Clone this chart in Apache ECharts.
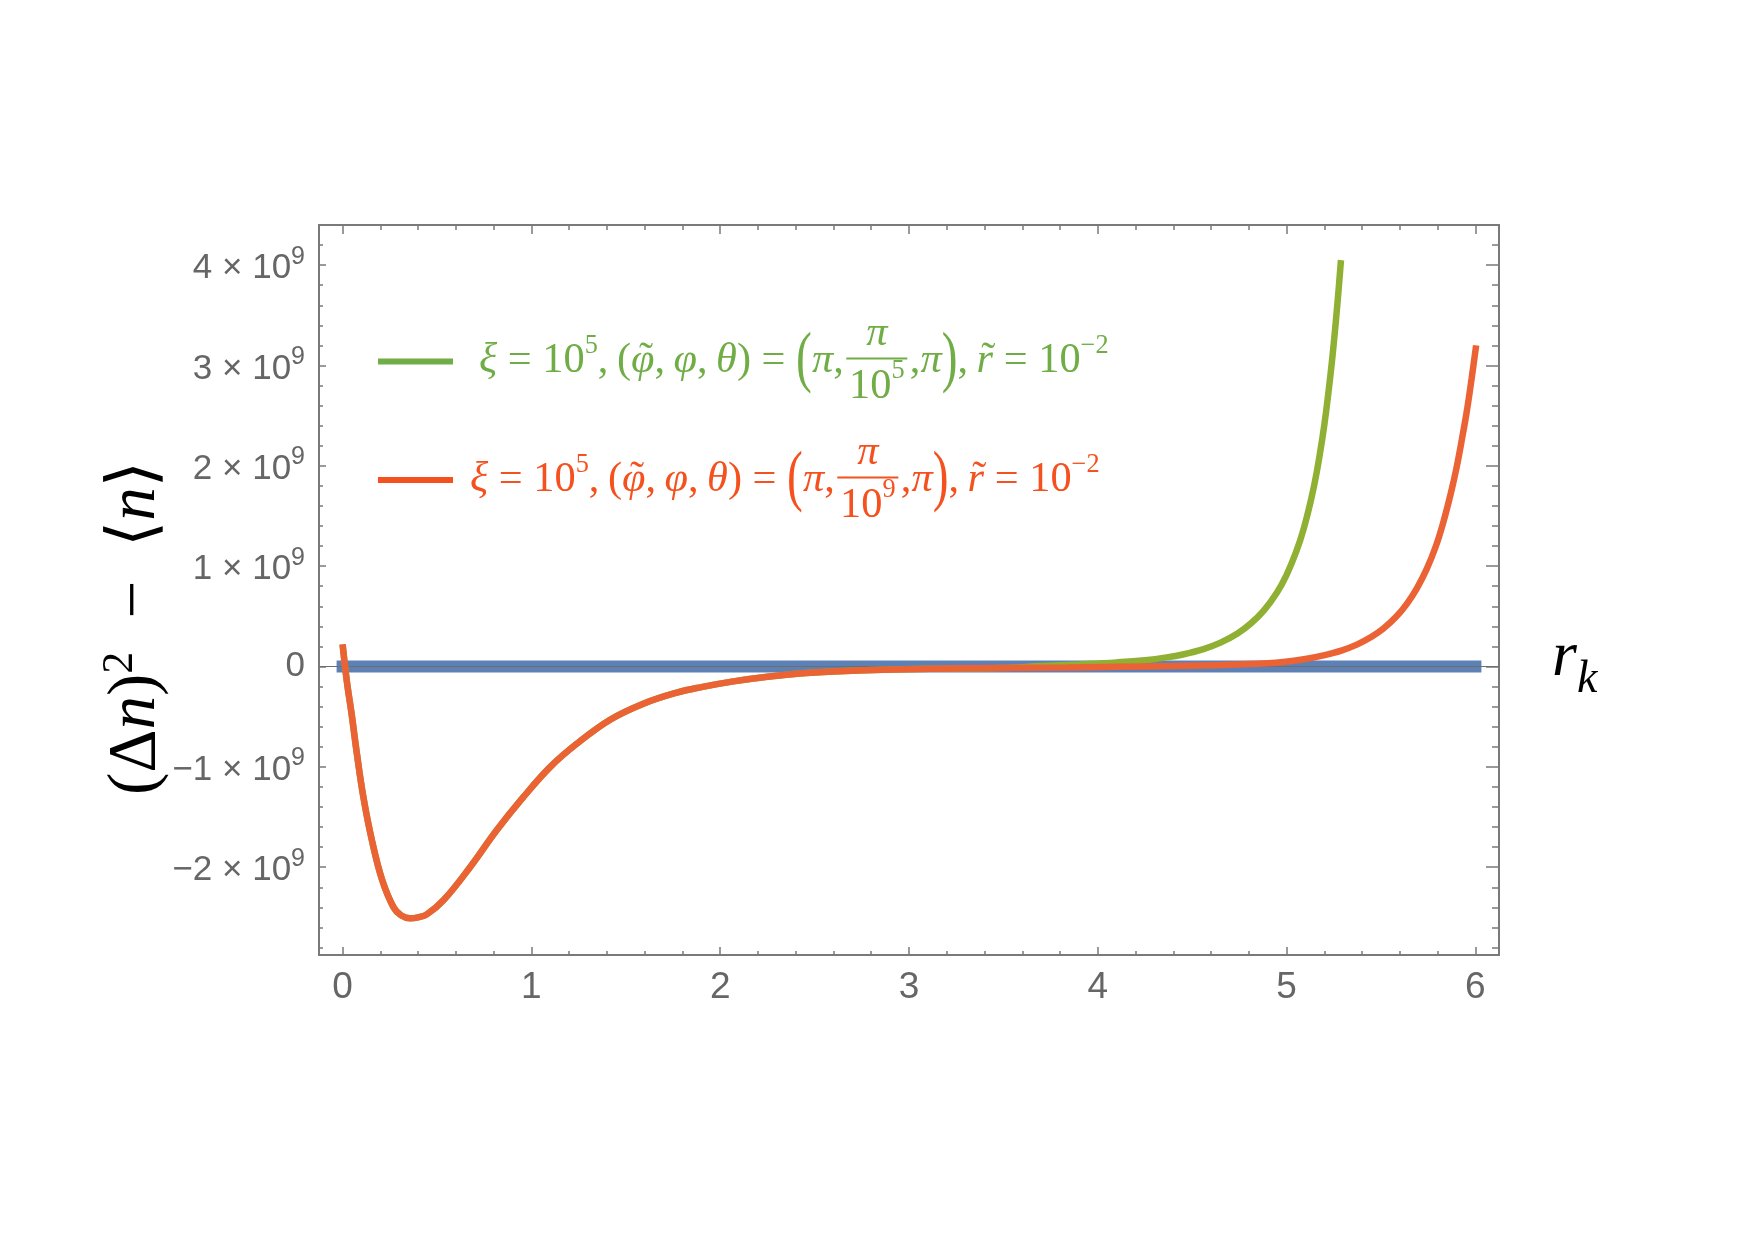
<!DOCTYPE html>
<html>
<head>
<meta charset="utf-8">
<script src="https://cdn.jsdelivr.net/npm/echarts@6/dist/echarts.min.js"></script>
<style>
html, body { margin: 0; padding: 0; background: #fff; }
#chart { width: 1755px; height: 1240px; }
</style>
</head>
<body>
<div id="chart"></div>
<script>
// r_k samples, values in units of 10^9
var redX = [0, 0.022, 0.049, 0.075, 0.11, 0.155, 0.21, 0.27, 0.31, 0.357, 0.40, 0.446, 0.534, 0.675, 0.817,
    0.958, 1.10, 1.24, 1.417, 1.593, 1.77, 1.9, 2.07, 2.25, 2.42, 2.6, 2.86, 3.13, 3.48, 3.84, 4.1, 4.4, 4.6,
    4.807, 4.983, 5.1, 5.195, 5.29, 5.372, 5.45, 5.513, 5.58, 5.637, 5.69, 5.743, 5.79, 5.83, 5.87, 5.90,
    5.93, 5.955, 5.98, 6.004];
var redY = [0.22, -0.14, -0.49, -0.86, -1.30, -1.73, -2.13, -2.40, -2.48, -2.51, -2.50, -2.47, -2.33, -2.00, -1.63,
    -1.30, -1.00, -0.77, -0.53, -0.37, -0.26, -0.205, -0.148, -0.102, -0.07, -0.05, -0.032, -0.022, -0.015, -0.01, -0.003, 0.005, 0.013,
    0.024, 0.046, 0.075, 0.111, 0.159, 0.218, 0.296, 0.378, 0.495, 0.625, 0.779, 0.976, 1.196, 1.437, 1.728, 1.98,
    2.28, 2.55, 2.87, 3.20];
var greenX = [0, 0.022, 0.049, 0.075, 0.11, 0.155, 0.21, 0.27, 0.31, 0.357, 0.40, 0.446, 0.534, 0.675, 0.817,
    0.958, 1.10, 1.24, 1.417, 1.593, 1.77, 1.9, 2.07, 2.25, 2.42, 2.6, 2.86, 3.13, 3.48, 3.7, 3.9, 4.1, 4.25,
    4.365, 4.45, 4.56, 4.65, 4.74, 4.81, 4.88, 4.95, 5.0, 5.05, 5.09, 5.13, 5.16, 5.19, 5.21, 5.235, 5.25, 5.27, 5.288];
var greenY = [0.22, -0.14, -0.49, -0.86, -1.30, -1.73, -2.13, -2.40, -2.48, -2.51, -2.50, -2.47, -2.33, -2.00, -1.63,
    -1.30, -1.00, -0.77, -0.53, -0.37, -0.26, -0.205, -0.148, -0.102, -0.07, -0.05, -0.032, -0.022, -0.015, 0.004, 0.021, 0.041, 0.063,
    0.091, 0.12, 0.174, 0.238, 0.329, 0.428, 0.56, 0.741, 0.914, 1.139, 1.369, 1.666, 1.941, 2.282, 2.553, 2.951, 3.224, 3.635, 4.05];
var blueX = [0, 6];
var blueY = [0, 0];

var xTicks = [0, 1, 2, 3, 4, 5, 6];
var yTicks = [-2, -1, 0, 1, 2, 3, 4];
var seriesNames = ['phi = pi/10^5', 'phi = pi/10^9'];

var FRAME = '#7a7a7a';
var SANS = '"Liberation Sans", Arial, sans-serif';
var SERIF = '"Liberation Serif", "DejaVu Serif", serif';

function pairs(xs, ys) { return xs.map(function (x, i) { return [x, ys[i]]; }); }
function minors(majors, lo, hi) {
    var out = [];
    for (var k = Math.round(lo * 5); k <= Math.round(hi * 5); k++) {
        var v = Math.round(k * 2) / 10;
        if (majors.indexOf(v) < 0) out.push(v);
    }
    return out;
}
var xMinor = minors(xTicks, 0, 6);
var yMinor = minors(yTicks, -2.8, 4.2);

function frameAxis(pos, min, max, vals, len, label) {
    return {
        type: 'value', position: pos, min: min, max: max,
        axisLine: { show: true, onZero: false, lineStyle: { color: FRAME, width: 2 } },
        axisTick: { show: true, inside: true, length: len, customValues: vals, lineStyle: { color: FRAME, width: 1.5 } },
        axisLabel: label ? label : { show: false, customValues: vals },
        splitLine: { show: false }
    };
}

var xLabel = { show: true, customValues: xTicks, margin: 14, color: '#666', fontSize: 37, fontFamily: SANS };
var yLabel = {
    show: true, customValues: yTicks, margin: 14, color: '#666', fontSize: 35, fontFamily: SANS,
    formatter: function (v) {
        if (v === 0) return '0';
        return '{b|' + (v < 0 ? '\u2212' : '') + Math.abs(v) + ' \u00d7 10}{s|9}';
    },
    rich: {
        b: { fontSize: 35, color: '#666', fontFamily: SANS, lineHeight: 42, verticalAlign: 'bottom' },
        s: { fontSize: 25, color: '#666', fontFamily: SANS, lineHeight: 25, verticalAlign: 'top' }
    }
};

// --- math text for legend, laid out piece by piece
var mctx = document.createElement('canvas').getContext('2d');
function fnt(size, it) { return (it ? 'italic ' : '') + size.toFixed(1) + 'px ' + SERIF; }
function mw(t, size, it) { mctx.font = fnt(size, it); return mctx.measureText(t).width; }

function mathRow(x0, yc, color, S, parts, measureOnly) {
    var els = [], x = x0;
    function txt(t, size, it, cx, cy, align, sx) {
        els.push({ type: 'text', x: cx, y: cy, scaleX: sx || 1, silent: true,
            style: { text: t, fill: color, font: fnt(size, it), align: align || 'left', verticalAlign: 'middle' } });
    }
    parts.forEach(function (p) {
        if (p.frac) {
            var ss = S * 0.62;
            var wn = mw(p.frac[0], S, true), wd = mw(p.frac[1], S, false) + mw(p.frac[2], ss, false);
            var fw = Math.max(wn, wd) + S * 0.25;
            txt(p.frac[0], S, true, x + fw / 2, yc - 0.64 * S, 'center');
            var dx = x + (fw - wd) / 2;
            txt(p.frac[1], S, false, dx, yc + 0.6 * S);
            txt(p.frac[2], ss, false, dx + mw(p.frac[1], S, false), yc + 0.6 * S - 0.36 * S);
            els.push({ type: 'rect', silent: true, shape: { x: x + S * 0.06, y: yc - 0.06 * S - 1, width: fw - S * 0.12, height: 2 }, style: { fill: color } });
            x += fw;
        } else if (p.paren) {
            var ps = S * 1.6;
            txt(p.paren, ps, false, x, yc, 'left', 0.7);
            x += mw(p.paren, ps, false) * 0.7;
        } else if (p.sup) {
            var s2 = S * 0.62;
            txt(p.t, s2, false, x, yc - 0.36 * S);
            x += mw(p.t, s2, false);
        } else {
            var gw = mw(p.t, S, !!p.it);
            txt(p.t, S, !!p.it, x, yc);
            if (p.tilde) txt('\u02dc', S, false, x + gw / 2 + S * 0.08, yc - 0.02 * S, 'center');
            x += gw;
        }
    });
    return measureOnly ? x - x0 : els;
}

function legendParts(den) {
    return [{ t: '\u03be', it: 1 }, { t: ' = 10' }, { t: '5', sup: 1 }, { t: ',\u2009(' }, { t: '\u03c6', it: 1, tilde: 1 },
        { t: ',\u2009' }, { t: '\u03c6', it: 1 }, { t: ',\u2009' }, { t: '\u03b8', it: 1 }, { t: ') = ' }, { paren: '(' },
        { t: '\u03c0', it: 1 }, { t: ',' }, { frac: ['\u03c0', '10', den] }, { t: ',' }, { t: '\u03c0', it: 1 },
        { paren: ')' }, { t: ',\u2009' }, { t: 'r', it: 1, tilde: 1 }, { t: ' = 10' }, { t: '\u22122', sup: 1 }];
}
function fitRow(x0, yc, color, targetW, parts) {
    var S = 40 * targetW / mathRow(0, 0, color, 40, parts, true);
    return mathRow(x0, yc, color, S, parts, false);
}

var graphics = []
    .concat(fitRow(479, 361, '#70AD47', 629, legendParts('5')))
    .concat(fitRow(470, 480, '#F4511E', 629, legendParts('9')));

graphics.push({
    type: 'text', x: 134, y: 628, rotation: Math.PI / 2, silent: true,
    style: {
        text: '{a|(\u0394}{i|n}{a|)}{s|2}{a|\u2002\u2212\u2002\u27e8}{i|n}{a|\u27e9}',
        align: 'center', verticalAlign: 'middle',
        rich: {
            a: { fontSize: 67, fontFamily: SERIF, fill: '#000', color: '#000', lineHeight: 72, verticalAlign: 'bottom' },
            i: { fontSize: 67, fontFamily: SERIF, fontStyle: 'italic', fill: '#000', color: '#000', lineHeight: 72, verticalAlign: 'bottom' },
            s: { fontSize: 44, fontFamily: SERIF, fill: '#000', color: '#000', lineHeight: 44, verticalAlign: 'top' }
        }
    }
});
graphics.push({ type: 'text', x: 1552, y: 658, silent: true,
    style: { text: 'r', font: 'italic 64px ' + SERIF, fill: '#000', align: 'left', verticalAlign: 'middle' } });
graphics.push({ type: 'text', x: 1577, y: 680, silent: true,
    style: { text: 'k', font: 'italic 46px ' + SERIF, fill: '#000', align: 'left', verticalAlign: 'middle' } });

var chart = echarts.init(document.getElementById('chart'));
var option = {
    backgroundColor: '#fff',
    animation: false,
    grid: { left: 319, top: 225, width: 1180, height: 730, containLabel: false, outerBoundsMode: 'none' },
    xAxis: [
        frameAxis('bottom', -0.125, 6.125, xTicks, 8, xLabel),
        frameAxis('bottom', -0.125, 6.125, xMinor, 4),
        frameAxis('top', -0.125, 6.125, xTicks, 9),
        frameAxis('top', -0.125, 6.125, xMinor, 5)
    ],
    yAxis: [
        frameAxis('left', -2.875, 4.4, yTicks, 7, yLabel),
        frameAxis('left', -2.875, 4.4, yMinor, 4),
        frameAxis('right', -2.875, 4.4, yTicks, 13),
        frameAxis('right', -2.875, 4.4, yMinor, 7)
    ],
    legend: {
        data: [
            { name: seriesNames[0], itemStyle: { color: '#70AD47' } },
            { name: seriesNames[1], itemStyle: { color: '#F4511E' } }
        ],
        orient: 'vertical', left: 373, top: 353.5, itemGap: 112.5, padding: 5,
        icon: 'rect', itemWidth: 75, itemHeight: 6,
        formatter: function () { return ''; },
        textStyle: { fontSize: 6 },
        selectedMode: false
    },
    graphic: { elements: graphics },
    series: [
        {
            name: 'zero', type: 'line', data: pairs(blueX, blueY), symbol: 'none', z: 2, silent: true,
            lineStyle: { color: '#5E81B5', width: 12, cap: 'square' },
            markLine: {
                silent: true, symbol: 'none', label: { show: false },
                lineStyle: { color: '#6e6e6e', width: 1, type: 'solid' },
                data: [{ yAxis: 0 }]
            }
        },
        {
            name: seriesNames[0], type: 'line', data: pairs(greenX, greenY), symbol: 'none',
            smooth: 0.4, z: 6,
            lineStyle: { color: '#8FB032', width: 6.5 }
        },
        {
            name: seriesNames[1], type: 'line', data: pairs(redX, redY), symbol: 'none',
            smooth: 0.4, z: 7,
            lineStyle: { color: '#EB6235', width: 6.5 }
        }
    ]
};
chart.setOption(option);
</script>
</body>
</html>
